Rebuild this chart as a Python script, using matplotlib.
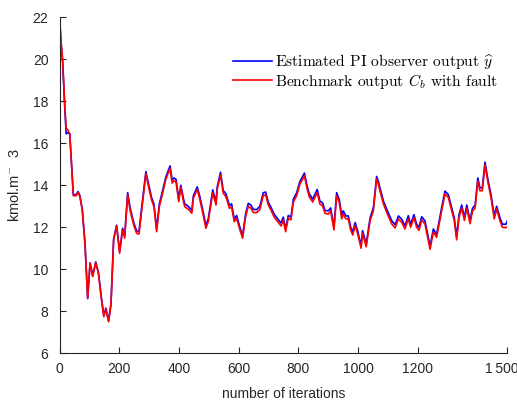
import matplotlib
matplotlib.use('Agg')
import matplotlib.pyplot as plt
import matplotlib.transforms as mtransforms
import numpy as np

plt.rcParams['font.family'] = ['Liberation Sans', 'DejaVu Sans']
plt.rcParams['mathtext.fontset'] = 'cm'

# sampled iterations and concentrations
iters = [0, 4, 10, 18, 22, 27, 34, 46, 55, 62, 68, 76, 85, 94, 102, 111, 121, 130,
         139, 148, 155, 164, 172, 181, 191, 201, 211, 218, 228, 236, 244, 250, 258,
         266, 275, 289, 297, 308, 316, 325, 334, 345, 356, 370, 377, 383, 390, 399,
         406, 415, 419, 431, 443, 448, 461, 470, 481, 490, 498, 513, 524, 528, 539,
         548, 557, 569, 576, 585, 593, 604, 613, 623, 632, 641, 649, 660, 671, 682,
         690, 699, 708, 719, 733, 742, 749, 757, 766, 775, 783, 794, 805, 820, 828,
         836, 848, 855, 863, 872, 881, 889, 900, 908, 919, 928, 937, 945, 950, 959,
         967, 975, 982, 990, 998, 1010, 1015, 1027, 1040, 1051, 1062, 1068, 1073,
         1085, 1098, 1113, 1124, 1135, 1146, 1157, 1168, 1176, 1187, 1196, 1204,
         1213, 1224, 1241, 1252, 1263, 1280, 1291, 1302, 1311, 1322, 1330, 1338,
         1347, 1356, 1364, 1375, 1383, 1392, 1401, 1408, 1416, 1425, 1434, 1445,
         1456, 1464, 1475, 1483, 1495, 1500]

cb_fault = [22.0, 21.0, 20.0, 17.6, 16.7, 16.65, 16.45, 13.5, 13.5, 13.65, 13.45, 12.8,
            11.2, 8.62, 10.3, 9.65, 10.32, 9.8, 8.7, 7.74, 8.1, 7.5, 8.3, 11.4, 12.06,
            10.76, 11.87, 11.48, 13.55, 12.82, 12.35, 12.03, 11.71, 11.68, 12.82,
            14.55, 14.0, 13.3, 12.98, 11.79, 12.98, 13.62, 14.29, 14.8, 14.1, 14.22,
            14.15, 13.22, 13.9, 13.22, 12.98, 12.86, 12.67, 13.38, 13.8, 13.3, 12.59,
            11.95, 12.27, 13.65, 13.06, 13.8, 14.5, 13.62, 13.46, 12.9, 12.98, 12.27,
            12.43, 11.87, 11.48, 12.5, 13.0, 12.9, 12.7, 12.7, 12.85, 13.5, 13.55,
            13.06, 12.82, 12.48, 12.22, 12.06, 12.35, 11.79, 12.43, 12.35, 13.2,
            13.5, 14.05, 14.45, 13.9, 13.46, 13.2, 13.42, 13.65, 13.1, 13.02, 12.66,
            12.63, 12.78, 11.87, 13.5, 13.18, 12.4, 12.63, 12.4, 12.4, 11.87, 11.63,
            12.08, 11.71, 11.0, 11.71, 11.07, 12.3, 12.78, 14.3, 14.05, 13.74, 13.1,
            12.63, 12.15, 11.97, 12.4, 12.23, 11.92, 12.4, 12.0, 12.46, 12.0, 11.85,
            12.35, 12.15, 10.95, 11.78, 11.52, 12.8, 13.58, 13.42, 12.92, 12.32,
            11.4, 12.47, 12.92, 12.32, 12.92, 12.17, 12.76, 12.92, 14.2, 13.74,
            13.74, 14.98, 14.2, 13.42, 12.4, 12.87, 12.32, 12.0, 11.98, 12.02]

pi_estimate = [22.0, 20.9, 19.9, 17.5, 16.45, 16.5, 16.45, 13.55, 13.55, 13.7, 13.5,
               12.85, 11.25, 8.6, 10.3, 9.7, 10.35, 9.85, 8.75, 7.8, 8.15, 7.55, 8.35,
               11.45, 12.1, 10.85, 11.95, 11.6, 13.65, 12.95, 12.45, 12.15, 11.82,
               11.8, 12.95, 14.65, 14.12, 13.42, 13.1, 11.92, 13.1, 13.75, 14.4,
               14.92, 14.25, 14.35, 14.28, 13.35, 14.0, 13.35, 13.12, 13.0, 12.8,
               13.5, 13.92, 13.45, 12.72, 12.08, 12.4, 13.78, 13.2, 13.92, 14.62,
               13.75, 13.6, 13.03, 13.12, 12.4, 12.56, 12.0, 11.6, 12.63, 13.14,
               13.05, 12.85, 12.84, 13.0, 13.64, 13.68, 13.2, 12.95, 12.62, 12.35,
               12.2, 12.48, 11.92, 12.56, 12.48, 13.34, 13.64, 14.18, 14.58, 14.03,
               13.6, 13.34, 13.56, 13.8, 13.25, 13.16, 12.8, 12.78, 12.92, 12.0,
               13.65, 13.32, 12.55, 12.78, 12.54, 12.54, 12.0, 11.78, 12.22, 11.85,
               11.12, 11.84, 11.2, 12.44, 12.92, 14.42, 14.18, 13.88, 13.24, 12.78,
               12.3, 12.12, 12.54, 12.38, 12.06, 12.55, 12.14, 12.6, 12.14, 12.0,
               12.5, 12.3, 11.1, 11.92, 11.66, 12.95, 13.72, 13.56, 13.06, 12.46,
               11.55, 12.6, 13.06, 12.46, 13.06, 12.32, 12.9, 13.06, 14.35, 13.88,
               13.88, 15.1, 14.34, 13.56, 12.55, 13.0, 12.46, 12.15, 12.14, 12.32]

xtick_vals = [0, 200, 400, 600, 800, 1000, 1200, 1500]
xtick_labels = ['0', '200', '400', '600', '800', '1000', '1200', '1\u2009500']
ytick_vals = [6, 8, 10, 12, 14, 16, 18, 20, 22]

fig = plt.figure(figsize=(5.17, 4.01), dpi=100)
ax = fig.add_axes([0.1153, 0.119, 0.8661, 0.838])

ax.plot(iters, pi_estimate, color='#0000ff', lw=1.2,
        label=r'Estimated PI observer output $\widehat{y}$')
ax.plot(iters, cb_fault, color='#ff0000', lw=1.2,
        label=r'Benchmark output $C_b$ with fault')

ax.set_xlim(0, 1500)
ax.set_ylim(6, 22)
ax.set_xticks(xtick_vals)
ax.set_xticklabels(xtick_labels)
ax.set_yticks(ytick_vals)

ax.spines['top'].set_visible(False)
ax.spines['right'].set_visible(False)
for s in ['left', 'bottom']:
    ax.spines[s].set_color('#262626')
    ax.spines[s].set_linewidth(0.8)
ax.tick_params(direction='in', length=4, width=0.8, colors='#262626',
               labelsize=10)
ax.tick_params(axis='x', pad=6)
ax.tick_params(axis='y', pad=8)

# last x label sits a little left of its tick
last = ax.get_xticklabels()[-1]
last.set_transform(last.get_transform() +
                   mtransforms.ScaledTranslation(-6 / 100, 0, fig.dpi_scale_trans))

ax.set_xlabel('number of iterations', fontsize=10, color='#262626', labelpad=8)
ax.set_ylabel(r'kmol.m$^{-}$  3', fontsize=10.5, color='#262626', labelpad=8)

leg = ax.legend(loc='upper right', bbox_to_anchor=(0.993, 0.915), frameon=False,
                prop={'family': 'cmr10', 'size': 11.2}, handlelength=2.5,
                handletextpad=0.2, labelspacing=0.05, borderaxespad=0.0)

fig.savefig('out.png', dpi=100)
